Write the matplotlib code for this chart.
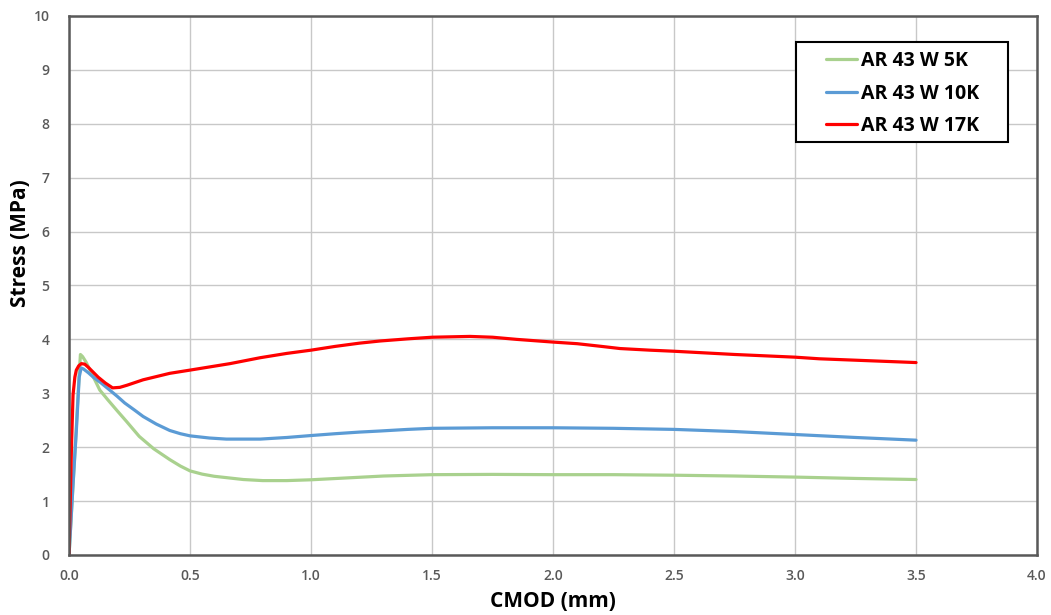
import numpy as np
import matplotlib
matplotlib.use("Agg")
import matplotlib.pyplot as plt
from matplotlib.patches import Rectangle

# ── DATA ──────────────────────────────────────────────────────────────────────
x_5k = [0, 0.012, 0.028, 0.040, 0.047, 0.056, 0.07, 0.09, 0.127, 0.16, 0.2,
        0.237, 0.29, 0.35, 0.416, 0.46, 0.5, 0.55, 0.6, 0.65, 0.72, 0.8, 0.9,
        1.0, 1.15, 1.3, 1.5, 1.75, 2.0, 2.25, 2.5, 2.75, 3.0, 3.25, 3.5]
y_5k = [0, 0.95, 2.2, 3.2, 3.72, 3.68, 3.58, 3.40, 3.06, 2.88, 2.67,
        2.48, 2.2, 1.97, 1.77, 1.65, 1.56, 1.50, 1.46, 1.435, 1.40, 1.38, 1.38,
        1.395, 1.43, 1.465, 1.49, 1.495, 1.49, 1.49, 1.48, 1.465, 1.445, 1.42, 1.40]

x_10k = [0, 0.015, 0.03, 0.042, 0.05, 0.06, 0.08, 0.1, 0.13, 0.168, 0.2, 0.23,
         0.27, 0.306, 0.36, 0.416, 0.46, 0.5, 0.58, 0.65, 0.79, 0.9, 1.0, 1.1,
         1.2, 1.285, 1.4, 1.5, 1.75, 2.0, 2.25, 2.5, 2.75, 3.0, 3.25, 3.5]
y_10k = [0, 1.2, 2.3, 3.3, 3.47, 3.45, 3.38, 3.3, 3.2, 3.06, 2.94, 2.82,
         2.69, 2.57, 2.43, 2.31, 2.25, 2.21, 2.17, 2.15, 2.15, 2.18, 2.216, 2.25,
         2.28, 2.30, 2.33, 2.35, 2.36, 2.36, 2.35, 2.33, 2.29, 2.235, 2.18, 2.13]

x_17k = [0, 0.005, 0.01, 0.0165, 0.024, 0.03, 0.04, 0.051, 0.065, 0.08, 0.1,
         0.12, 0.15, 0.18, 0.21, 0.24, 0.306, 0.416, 0.5, 0.665, 0.79, 0.9,
         1.0, 1.1, 1.2, 1.285, 1.4, 1.5, 1.657, 1.75, 1.85, 2.0, 2.1, 2.2,
         2.277, 2.4, 2.5, 2.75, 3.0, 3.1, 3.5]
y_17k = [0, 1.0, 2.0, 2.97, 3.3, 3.43, 3.51, 3.55, 3.54, 3.48, 3.39,
         3.3, 3.19, 3.10, 3.11, 3.15, 3.25, 3.37, 3.43, 3.55, 3.66, 3.74,
         3.80, 3.87, 3.93, 3.97, 4.01, 4.04, 4.055, 4.04, 4.0, 3.95, 3.92, 3.87,
         3.83, 3.80, 3.78, 3.72, 3.67, 3.64, 3.57]

labels = ["AR 43 W 5K", "AR 43 W 10K", "AR 43 W 17K"]
colors = ["#A9D18E", "#5B9BD5", "#FF0000"]

x_ticks = [0.0, 0.5, 1.0, 1.5, 2.0, 2.5, 3.0, 3.5, 4.0]
y_ticks = [0, 1, 2, 3, 4, 5, 6, 7, 8, 9, 10]

# ── PLOT ──────────────────────────────────────────────────────────────────────
plt.rcParams["font.family"] = ["Open Sans", "DejaVu Sans"]

fig = plt.figure(figsize=(10.51, 6.15), dpi=100)
ax = fig.add_axes([0.0657, 0.0976, 0.921, 0.8764])

for xs, ys, lab, col in zip([x_5k, x_10k, x_17k], [y_5k, y_10k, y_17k], labels, colors):
    ax.plot(xs, ys, color=col, lw=2.3, label=lab,
            solid_joinstyle="round", solid_capstyle="round")

ax.set_xlim(0, 4.0)
ax.set_ylim(0, 10)
ax.set_xticks(x_ticks)
ax.set_xticklabels([f"{v:.1f}" for v in x_ticks])
ax.set_yticks(y_ticks)

ax.grid(True, color="#c8c8c8", linewidth=1.0)
ax.set_axisbelow(True)
ax.tick_params(length=0, labelsize=10, labelcolor="#595959")
ax.tick_params(axis="x", pad=10)
ax.tick_params(axis="y", pad=14)
for lab in ax.get_xticklabels() + ax.get_yticklabels():
    lab.set_fontweight("semibold")

for side in ["left", "bottom", "right", "top"]:
    ax.spines[side].set_color("#595959")
    ax.spines[side].set_linewidth(1.8)

ax.set_xlabel("CMOD (mm)", fontsize=15, fontweight="bold", labelpad=6)
ax.set_ylabel("Stress (MPa)", fontsize=15, fontweight="bold")
ax.yaxis.set_label_coords(-0.039, 0.579)

# legend: frameless content + separate box (wider side padding, like Excel)
leg = ax.legend(loc="upper left", bbox_to_anchor=(0.782, 0.935), borderaxespad=0,
                frameon=False, prop={"weight": "bold", "size": 14},
                handlelength=1.6, handletextpad=0.2, labelspacing=0.65,
                borderpad=0)
ax.add_patch(Rectangle((0.751, 0.766), 0.219, 0.186, transform=ax.transAxes,
                       facecolor="white", edgecolor="black", lw=1.5, zorder=4.9))
leg.set_zorder(5)

fig.savefig("out.png", dpi=100)
